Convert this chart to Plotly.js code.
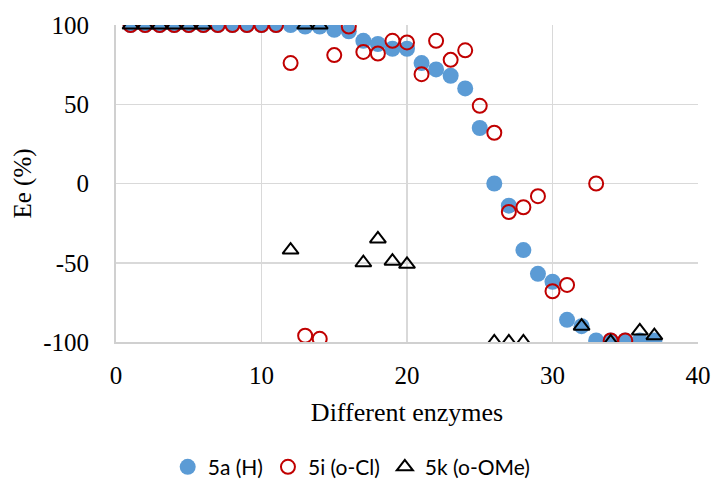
<!DOCTYPE html>
<html>
<head>
<meta charset="utf-8">
<script src="https://cdn.plot.ly/plotly-3.0.1.min.js"></script>
<style>html,body{margin:0;padding:0;background:#fff;}#chart{width:716px;height:495px;}</style>
</head>
<body>
<div id="chart"></div>
<script>
// 5a (H)
const xA = [1,2,3,4,5,6,7,8,9,10,11,12,13,14,15,16,17,18,19,20,21,22,23,24,25,26,27,28,29,30,31,32,33,34,35,36,37];
const yA = [100,100,100,100,100,100,100,100,100,100,100,100,99,99,97,96,90,88,85,85,76,72,68,60,35,0,-14,-42,-57,-62,-86,-90,-99,-99,-99,-99,-99];
// 5i (o-Cl)
const xI = [1,2,3,4,5,6,7,8,9,10,11,12,13,14,15,16,17,18,19,20,21,22,23,24,25,26,27,28,29,30,31,33,34,35];
const yI = [100,100,100,100,100,100,100,100,100,100,100,76,-96,-98,81,99,83,82,90,89,69,90,78,84,49,32,-18,-15,-8,-68,-64,0,-99,-99];
// 5k (o-OMe)
const xK = [1,2,3,4,5,6,12,13,14,17,18,19,20,26,27,28,32,34,36,37];
const yK = [100,100,100,100,100,100,-42,100,100,-50,-35,-49,-51,-100,-100,-100,-90,-100,-93,-96];

const names = ['5a (H)', '5i (o-Cl)', '5k (o-OMe)'];
const xTicks = [0,10,20,30,40];
const yTicks = [-100,-50,0,50,100];

const traces = [
  {x:xA, y:yA, name:names[0], type:'scatter', mode:'markers',
   marker:{symbol:'circle', size:16, color:'#5b9bd5', line:{width:0}}},
  {x:xI, y:yI, name:names[1], type:'scatter', mode:'markers',
   marker:{symbol:'circle-open', size:14, color:'#c00000', line:{width:2, color:'#c00000'}}},
  {x:xK, y:yK, name:names[2], type:'scatter', mode:'markers',
   marker:{symbol:'triangle-up-open', size:14, color:'#000000', line:{width:2, color:'#000000'}}}
];

const serif = 'Liberation Serif, Times New Roman, serif';
const layout = {
  width:716, height:495,
  margin:{l:116, r:18, t:25, b:153, autoexpand:false},
  paper_bgcolor:'#fff', plot_bgcolor:'#fff',
  showlegend:true,
  legend:{orientation:'h', x:0.405, xanchor:'center', y:-0.395, yanchor:'middle',
          font:{family:'Lato, Open Sans, sans-serif', size:21, color:'#000'}},
  xaxis:{range:[0,40], tickvals:xTicks, ticktext:xTicks.map(String), automargin:false,
         showgrid:true, gridcolor:'#d9d9d9', gridwidth:1.5, zeroline:false,
         showline:true, linecolor:'#d0d0d0', linewidth:2,
         ticks:'', ticklen:0, ticklabelstandoff:10,
         tickfont:{family:serif, size:25, color:'#000'},
         title:{text:'Different enzymes', font:{family:serif, size:26, color:'#000'}, standoff:15}},
  yaxis:{range:[-100,100], tickvals:yTicks, ticktext:yTicks.map(String), automargin:false,
         showgrid:true, gridcolor:'#d9d9d9', gridwidth:1.5, zeroline:false,
         showline:true, linecolor:'#d0d0d0', linewidth:2,
         ticks:'', ticklen:0, ticklabelstandoff:20,
         tickfont:{family:serif, size:25, color:'#000'},
         title:{text:'Ee (%)', font:{family:serif, size:25, color:'#000'}, standoff:4}}
};
Plotly.newPlot('chart', traces, layout, {displayModeBar:false, staticPlot:true});
</script>
</body>
</html>
